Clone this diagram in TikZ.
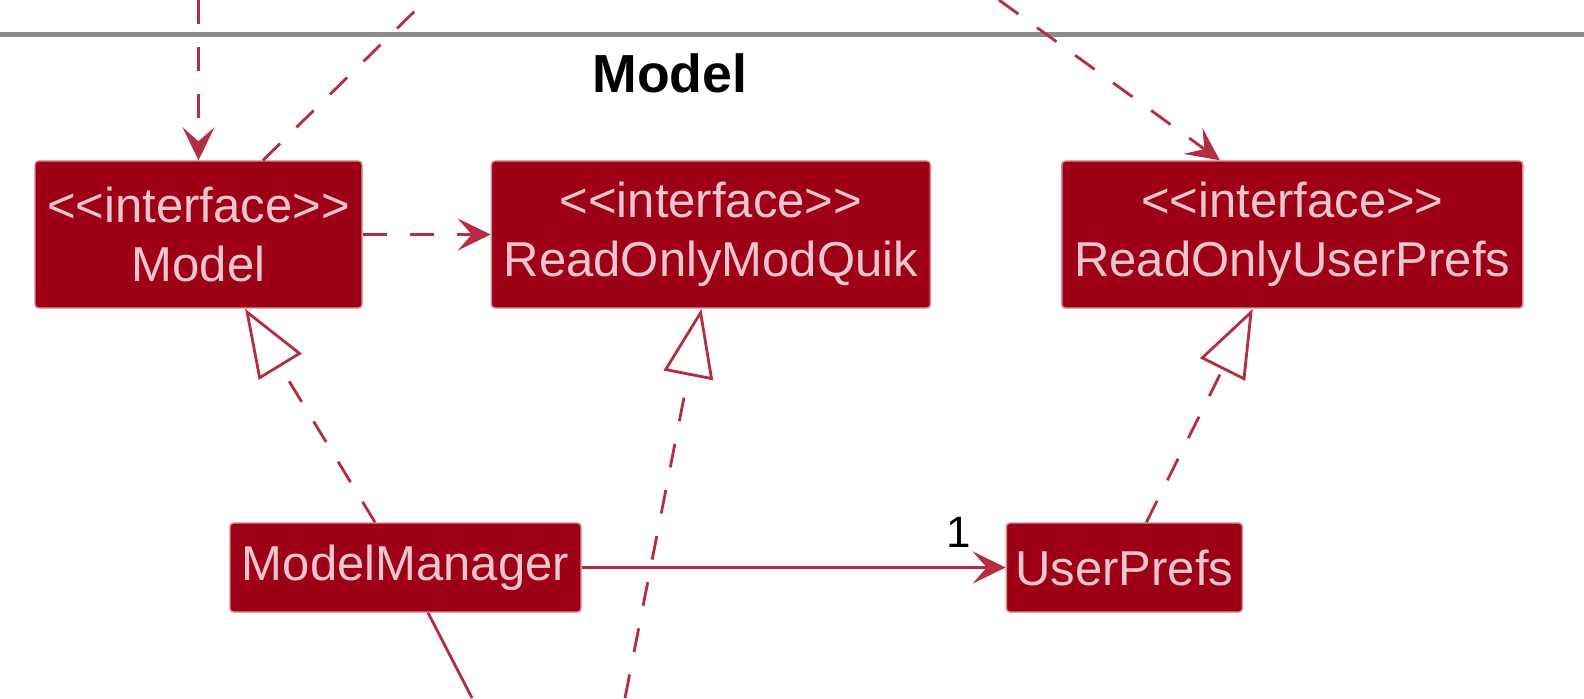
\documentclass[tikz,border=0pt]{standalone}
\usepackage{fontspec}
\setmainfont{Liberation Sans}
\usetikzlibrary{positioning, arrows.meta}
\definecolor{mdRed}{RGB}{158,0,22}
\definecolor{mdEdge}{RGB}{214,140,152}
\definecolor{mdLine}{RGB}{180,45,65}
\definecolor{mdText}{RGB}{238,198,206}
\definecolor{mdGrey}{RGB}{140,140,140}
\newcommand{\stereo}{{<}{<}interface{>}{>}}

\begin{document}
\begin{tikzpicture}[
  cls/.style={fill=mdRed, draw=mdEdge, line width=0.8pt, rounded corners=2pt, minimum height=2.94cm, inner sep=0pt, align=center, text=mdText, font=\fontsize{27.9}{33.5}\selectfont},
  small/.style={cls, minimum height=1.78cm},
  dep/.style={draw=mdLine, line width=1.6pt, dash pattern=on 0.48cm off 0.46cm, -{Stealth[length=0.66cm, width=0.64cm, inset=0.28cm]}},
  real/.style={draw=mdLine, line width=1.6pt, dash pattern=on 0.48cm off 0.46cm, -{Triangle[open, length=1.36cm, width=1.0cm]}},
  assoc/.style={draw=mdLine, line width=1.6pt, -{Stealth[length=0.66cm, width=0.64cm, inset=0.28cm]}},
  node distance=2.56cm
]
  \useasboundingbox (0,0) rectangle (31.68,13.96);
  \fill[white] (0,0) rectangle (31.68,13.96);
  \draw[mdGrey, line width=0.1cm] (0,13.26) -- (31.68,13.26);
  \node[font=\bfseries\fontsize{30.5}{36}\selectfont] (title) at (13.4,12.5) {Model};

  % interfaces
  \node[cls, minimum width=6.54cm] (model) at (3.97,9.27) {\stereo\\Model};
  \node[cls, minimum width=8.78cm, right=of model] (romq) {\stereo\\ReadOnlyModQuik};
  \node[cls, minimum width=9.22cm, right=2.6cm of romq] (roup) {\stereo\\ReadOnlyUserPrefs};

  % classes
  \node[small, minimum width=7.02cm] (mm) at (8.11,2.61) {ModelManager};
  \node[small, minimum width=4.72cm, right=8.48cm of mm] (up) {UserPrefs};

  % loose ends outside the package
  \coordinate (topin) at (3.97,13.96);
  \coordinate (topout) at (8.52,13.96);
  \coordinate (roupin) at (19.98,13.96);
  \coordinate (romqin) at (12.5,0);
  \coordinate (mmout) at (9.44,0);

  \draw[dep] (topin) -- (model.north);
  \draw[dash pattern=on 0.48cm off 0.46cm, draw=mdLine, line width=1.6pt] ([xshift=1.29cm]model.north) -- (topout);
  \draw[dep] (roupin) -- ([xshift=-1.45cm]roup.north);
  \draw[dep] (model.east) -- (romq.west);

  \draw[real] ([xshift=-0.61cm]mm.north) -- ([xshift=0.93cm]model.south);
  \draw[real] (romqin) -- ([xshift=-0.19cm]romq.south);
  \draw[real] ([xshift=0.44cm]up.north) -- ([xshift=-0.79cm]roup.south);

  \draw[assoc] (mm.east) -- (up.west);
  \node[font=\fontsize{25}{30}\selectfont] (mult) at ([xshift=-0.94cm, yshift=0.7cm]up.west) {1};
  \draw[draw=mdLine, line width=1.6pt] ([xshift=0.45cm]mm.south) -- (mmout);
\end{tikzpicture}
\end{document}
